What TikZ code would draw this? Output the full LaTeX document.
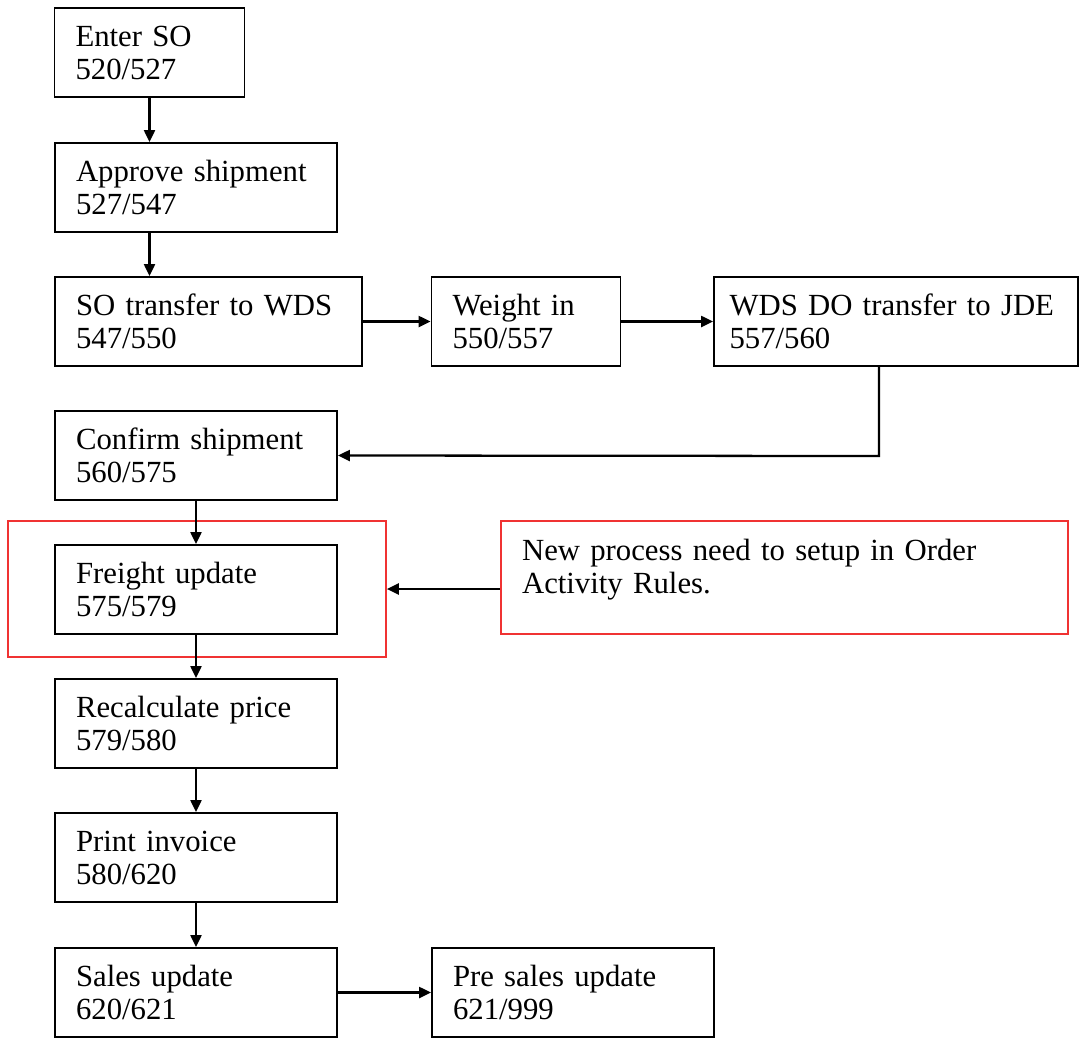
\documentclass[tikz,border=0pt]{standalone}
\usepackage{fontspec}
\setmainfont{Liberation Serif}
\usetikzlibrary{arrows.meta}
\definecolor{framered}{RGB}{240,50,50}
\newcommand\stepfont{\fontsize{17.5}{18.8}\selectfont}
\tikzset{
  stepbox/.style={draw, line width=1.1pt, rectangle, minimum height=1.78cm,
    inner xsep=0.42cm, align=left, font=\stepfont},
  redbox/.style={draw=framered, line width=1pt, rectangle}
}
\begin{document}
\begin{tikzpicture}[x=0.02cm, y=-0.02cm, >={Triangle[length=0.24cm,width=0.22cm]}, line width=1.3pt]
        \useasboundingbox (0,0) rectangle (1080,1039);

        % Red frame round the new step
        \node[redbox, minimum width=7.56cm, minimum height=2.72cm] (frame) at (197,589) {};

        % Main column of steps
        \node[stepbox, text width=2.96cm] (enter) at (149.5,52.5) {Enter SO\\520/527};
        \node[stepbox, text width=4.80cm] (approve) at (196,187.5) {Approve shipment\\527/547};
        \node[stepbox, text width=5.30cm] (sotrans) at (208.5,321.5) {SO transfer to WDS\\547/550};
        \node[stepbox, text width=4.80cm] (confirm) at (196,455.5) {Confirm shipment\\560/575};
        \node[stepbox, text width=4.80cm] (freight) at (196,589.5) {Freight update\\575/579};
        \node[stepbox, text width=4.80cm] (recalc) at (196,723.5) {Recalculate price\\579/580};
        \node[stepbox, text width=4.80cm] (invoice) at (196,857.5) {Print invoice\\580/620};
        \node[stepbox, text width=4.80cm] (sales) at (196,992.5) {Sales update\\620/621};

        % Side steps
        \node[stepbox, text width=2.94cm] (weight) at (526,321.5) {Weight in\\550/557};
        \node[stepbox, text width=6.66cm, inner xsep=0.31cm] (wdsdo) at (896,321.5) {WDS DO transfer to JDE\\557/560};
        \node[stepbox, text width=4.80cm] (presales) at (573,992.5) {Pre sales update\\621/999};

        % Note on the new step
        \node[stepbox, draw=framered, line width=1pt, text width=10.50cm, minimum height=2.26cm] (note) at (784.5,577.5)
          {New process need to setup in Order\\Activity Rules.\rule[-0.44cm]{0pt}{0.44cm}};

        % Flow
        \coordinate (bend) at (879,456);
        \draw[->] (enter) -- (approve.north -| enter);
        \draw[->] (approve.south -| enter) -- (sotrans.north -| enter);
        \draw[->] (sotrans) -- (weight);
        \draw[->] (weight) -- (wdsdo);
        \draw[->] (bend |- wdsdo.south) -- (bend) -- (confirm.east);
        \draw[->] (confirm) -- (freight);
        \draw[->] (freight) -- (recalc);
        \draw[->] (recalc) -- (invoice);
        \draw[->] (invoice) -- (sales);
        \draw[->] (sales) -- (presales);
        \draw[->] (note.west |- frame) -- (frame.east);
    \end{tikzpicture}
\end{document}
